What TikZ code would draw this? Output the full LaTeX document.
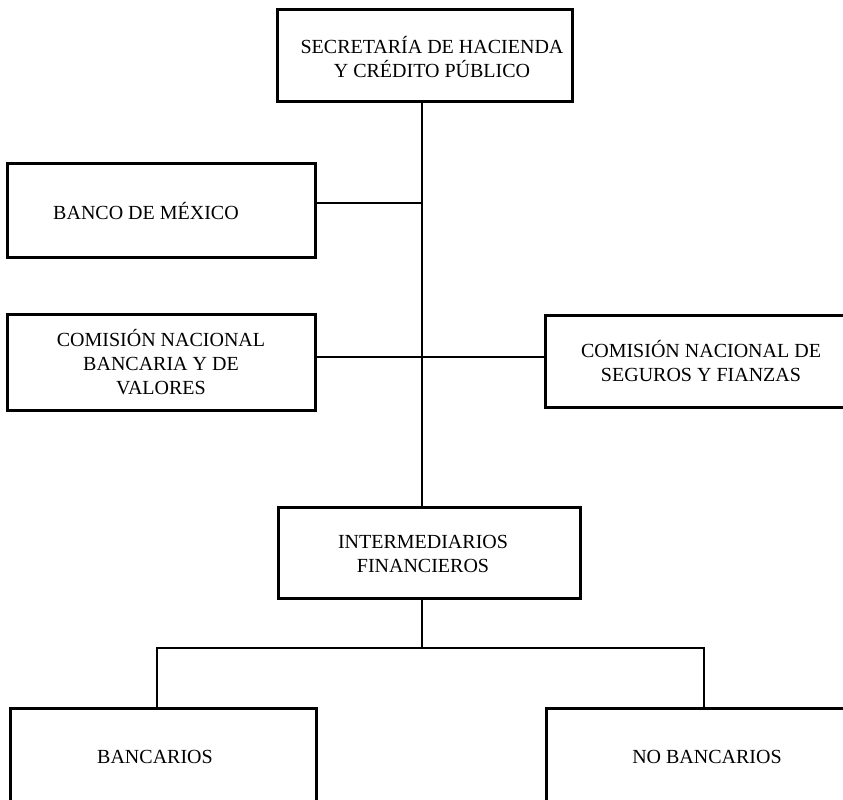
\documentclass[tikz,border=0pt]{standalone}
\usepackage{fontspec}
\setmainfont{Liberation Serif}
\begin{document}
\begin{tikzpicture}[x=1pt,y=-1pt,
  box/.style={draw, line width=3pt, rectangle, align=center, inner sep=0pt,
    font=\fontsize{20}{24}\selectfont},
  txt/.style={align=center, inner sep=0pt, font=\fontsize{20}{24}\selectfont},
  conn/.style={line width=2.7pt}]
\useasboundingbox (0,0) rectangle (843,800);
\clip (0,0) rectangle (843,800);
\coordinate (t) at (422,0);
\coordinate (jl) at (157,648);
\coordinate (jr) at (704,648);
% boxes
\node[box, minimum width=295pt, minimum height=91pt] (shcp) at (424.5,55.5) {};
\node[txt] (shcpt) at (432,57) {\fontsize{20}{26}\selectfont SECRETARÍA DE HACIENDA\\Y CRÉDITO PÚBLICO};
\node[box, minimum width=308pt, minimum height=94pt] (bm) at (161,210) {};
\node[txt] (bmt) at (146,211) {BANCO DE MÉXICO};
\node[box, minimum width=308pt, minimum height=96pt] (cnbv) at (161,362) {COMISIÓN NACIONAL\\BANCARIA Y DE\\VALORES};
\node[box, minimum width=312pt, minimum height=92pt] (cnsf) at (701,361) {COMISIÓN NACIONAL DE\\SEGUROS Y FIANZAS};
\node[box, minimum width=302pt, minimum height=91pt] (inter) at (429,552.5) {};
\node[txt] (intert) at (423,554) {INTERMEDIARIOS\\FINANCIEROS};
\node[box, minimum width=306pt, minimum height=98pt] (banc) at (163,757) {};
\node[txt] (banct) at (155,757) {BANCARIOS};
\node[box, minimum width=322pt, minimum height=98pt] (nob) at (707,757) {NO BANCARIOS};
% connectors
\draw[conn] (shcp.south -| t) -- (inter.north -| t);
\draw[conn] ([yshift=7pt]bm.east) -- ([yshift=7pt]bm.east -| t);
\draw[conn] ([yshift=5pt]cnbv.east) -- ([yshift=5pt]cnbv.east -| cnsf.west);
\draw[conn] (inter.south -| t) -- (t |- jl);
\draw[conn] (jl |- banc.north) -- (jl) -- (jr) -- (jr |- nob.north);
\end{tikzpicture}
\end{document}
